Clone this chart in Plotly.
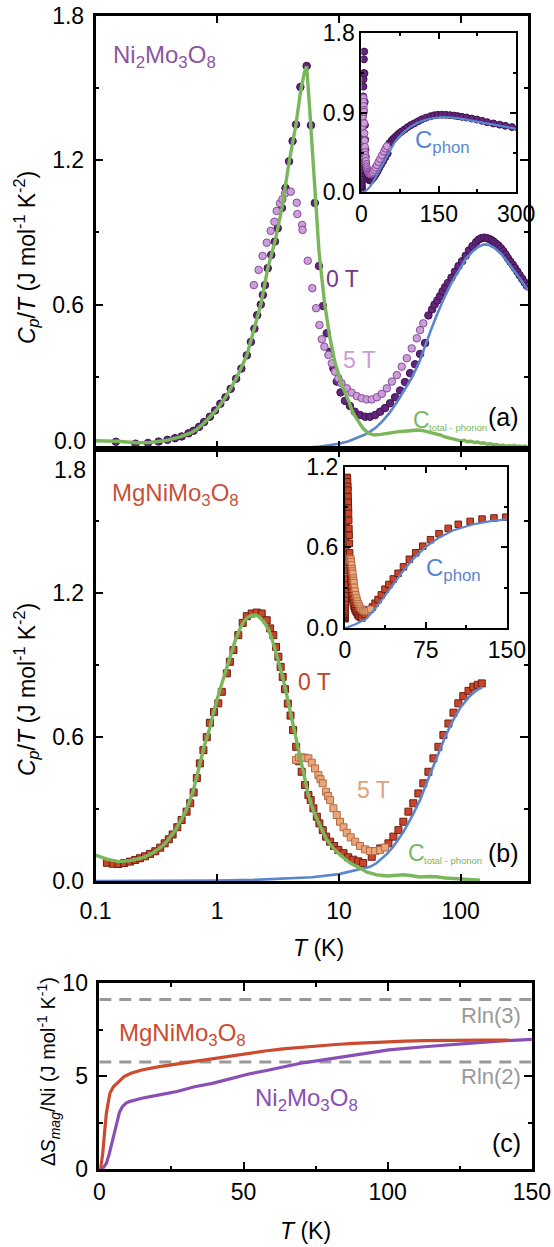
import plotly.graph_objects as go

# ---------------- data ----------------
# (a) Ni2Mo3O8, Cp/T in J mol^-1 K^-2
ni_0T_T = [0.147, 0.213, 0.27, 0.33, 0.39, 0.45, 0.51, 0.58, 0.64, 0.71, 0.78, 0.87, 0.96, 1.06,
           1.17, 1.29, 1.43, 1.58, 1.75, 1.89, 2.02, 2.13, 2.28, 2.37, 2.47, 2.60, 2.78, 2.98,
           3.14, 3.40, 3.64, 3.89, 4.16, 4.44, 4.82, 5.43, 5.89, 6.34, 6.86, 7.40, 7.94, 8.45,
           9.0, 9.6, 10.3, 11.2, 12.3, 13.5, 14.9, 16.4, 18.0, 19.8, 21.8, 23.9, 26.3, 28.9,
           31.8, 34.9, 38.4, 42.2, 46.4, 51.0, 54.3, 58.2, 61.0, 64.3, 67.5, 71.0, 74.5, 78.6,
           84.0, 89.8, 96.0, 102.6, 110, 117, 125, 134, 141, 148, 156, 164, 172, 180, 187, 195,
           204, 214, 224, 234, 244, 256, 268, 279, 292, 305, 320, 335, 350]
ni_0T_C = [0.030, 0.022, 0.025, 0.031, 0.038, 0.045, 0.052, 0.065, 0.076, 0.092, 0.112, 0.134,
           0.160, 0.188, 0.215, 0.250, 0.292, 0.334, 0.389, 0.445, 0.500, 0.556, 0.600, 0.640,
           0.681, 0.751, 0.806, 0.862, 0.917, 1.001, 1.084, 1.195, 1.279, 1.348, 1.504, 1.591,
           1.345, 1.022, 0.760, 0.594, 0.481, 0.404, 0.335, 0.280, 0.235, 0.200, 0.179, 0.155,
           0.141, 0.134, 0.134, 0.141, 0.155, 0.170, 0.190, 0.215, 0.243, 0.278, 0.315, 0.352,
           0.395, 0.440, 0.555, 0.580, 0.600, 0.617, 0.635, 0.655, 0.672, 0.690, 0.712, 0.737,
           0.760, 0.780, 0.803, 0.825, 0.843, 0.860, 0.870, 0.876, 0.878, 0.876, 0.872, 0.867,
           0.861, 0.853, 0.845, 0.834, 0.822, 0.808, 0.793, 0.778, 0.765, 0.752, 0.737, 0.722,
           0.707, 0.692, 0.678]

ni_5T_T = [2.00, 2.19, 2.36, 2.55, 2.75, 2.95, 3.08, 3.28, 3.43, 3.61, 4.02, 4.50, 4.55, 4.98,
           5.02, 5.54, 6.04, 6.49, 6.91, 7.23, 7.59, 8.19, 8.73, 9.29, 9.89, 10.5, 11.6, 12.7,
           14.0, 15.4, 16.9, 18.6, 20.5, 22.5, 24.7, 27.2, 29.9, 32.8, 36.1, 39.6, 43.6, 46.4,
           49.3]
ni_5T_C = [0.681, 0.744, 0.802, 0.857, 0.906, 0.944, 0.989, 1.021, 1.037, 1.062, 1.069, 1.023,
           0.976, 0.931, 0.910, 0.782, 0.668, 0.585, 0.515, 0.456, 0.425, 0.391, 0.356, 0.321,
           0.294, 0.273, 0.252, 0.234, 0.220, 0.211, 0.206, 0.206, 0.215, 0.229, 0.252, 0.280,
           0.307, 0.342, 0.377, 0.418, 0.460, 0.494, 0.522]

ni_phon_T = [1.5, 3, 5, 7, 10, 12, 14, 16, 18, 20, 23, 26, 30, 35, 40, 46, 51, 57, 64, 72, 84,
             98, 110, 125, 140, 155, 170, 190, 215, 245, 280, 320, 357]
ni_phon_C = [0.0, 0.001, 0.004, 0.010, 0.022, 0.032, 0.045, 0.058, 0.072, 0.088, 0.118, 0.150,
             0.195, 0.248, 0.298, 0.365, 0.430, 0.495, 0.560, 0.620, 0.690, 0.750, 0.790, 0.820,
             0.840, 0.850, 0.848, 0.835, 0.810, 0.775, 0.737, 0.695, 0.658]

ni_mag_T = [0.1, 0.15, 0.22, 0.28, 0.385, 0.494, 0.60, 0.68, 0.78, 0.87, 1.0, 1.17, 1.43, 1.75,
            2.02, 2.28, 2.6, 2.98, 3.4, 3.89, 4.44, 4.82, 5.2, 5.43, 5.7, 6.2, 6.86, 7.6, 8.38,
            9.26, 10.6, 12.1, 12.9, 14.3, 15.8, 17.4, 19.5, 22, 26.7, 31, 36.5, 40, 44, 48, 53,
            60, 68.5, 74, 80, 88, 94, 100, 107, 113, 121, 130, 138, 146, 155, 165, 176, 188,
            199, 210, 222, 235, 248, 262, 276, 290, 305, 320, 336, 353]
ni_mag_C = [0.034, 0.032, 0.026, 0.027, 0.036, 0.050, 0.066, 0.082, 0.108, 0.132, 0.165, 0.215,
            0.292, 0.389, 0.500, 0.600, 0.750, 0.862, 1.000, 1.190, 1.350, 1.480, 1.565, 1.590,
            1.440, 1.167, 0.820, 0.610, 0.470, 0.360, 0.264, 0.195, 0.155, 0.118, 0.085, 0.066,
            0.058, 0.061, 0.068, 0.072, 0.075, 0.078, 0.079, 0.077, 0.072, 0.065, 0.058, 0.050,
            0.046, 0.040, 0.038, 0.034, 0.036, 0.030, 0.032, 0.027, 0.029, 0.024, 0.026, 0.020,
            0.022, 0.017, 0.019, 0.013, 0.016, 0.011, 0.014, 0.012, 0.015, 0.011, 0.013, 0.010,
            0.013, 0.011]

# (b) MgNiMo3O8
mg_0T_T = [0.124, 0.139, 0.154, 0.172, 0.192, 0.212, 0.232, 0.255, 0.28, 0.31, 0.34, 0.37, 0.40,
           0.43, 0.47, 0.51, 0.56, 0.60, 0.64, 0.68, 0.72, 0.77, 0.82, 0.87, 0.94, 1.02, 1.09,
           1.20, 1.27, 1.36, 1.49, 1.62, 1.75, 1.92, 2.11, 2.32, 2.55, 2.72, 2.89, 3.04, 3.18,
           3.32, 3.45, 3.60, 3.80, 4.00, 4.20, 4.45, 4.70, 4.94, 5.26, 5.61, 5.86, 6.17, 6.58,
           6.91, 7.36, 7.84, 8.45, 9.12, 9.89, 10.9, 11.9, 13.1, 14.4, 15.8,
           18.6, 21.8, 25.5, 28.0, 30.8, 33.8, 37.2, 40.8, 44.9, 49.3, 54.3, 59.7, 65.6, 72.1,
           79.3, 87.2, 95.7, 105, 116, 127, 138, 149]
mg_0T_C = [0.077, 0.073, 0.072, 0.076, 0.082, 0.089, 0.096, 0.104, 0.114, 0.125, 0.140, 0.158,
           0.175, 0.195, 0.225, 0.255, 0.290, 0.325, 0.370, 0.430, 0.491, 0.546, 0.600, 0.660,
           0.705, 0.741, 0.789, 0.866, 0.914, 0.963, 1.025, 1.076, 1.104, 1.115, 1.119, 1.115,
           1.087, 1.053, 1.025, 0.976, 0.935, 0.893, 0.851, 0.800, 0.740, 0.690, 0.630, 0.560,
           0.500, 0.456, 0.401, 0.359, 0.338, 0.304, 0.269, 0.241, 0.213, 0.186, 0.165, 0.147,
           0.130, 0.117, 0.100, 0.090, 0.083, 0.076,
           0.102, 0.137, 0.158, 0.186, 0.213, 0.248, 0.290, 0.325, 0.366, 0.408, 0.456, 0.512,
           0.560, 0.609, 0.657, 0.702, 0.741, 0.771, 0.793, 0.810, 0.818, 0.824]

mg_5T_T = [4.44, 4.70, 4.94, 5.25, 5.61, 5.98, 6.36, 6.78, 7.05, 7.36, 7.84, 8.15, 8.45, 9.0,
           9.59, 10.2, 10.9, 11.6, 12.5, 13.6, 14.9, 16.4, 18.0, 19.8, 21.8, 23.9]
mg_5T_C = [0.505, 0.515, 0.516, 0.515, 0.512, 0.494, 0.470, 0.442, 0.425, 0.408, 0.373, 0.355,
           0.338, 0.304, 0.276, 0.248, 0.225, 0.202, 0.183, 0.165, 0.147, 0.133, 0.126, 0.126,
           0.130, 0.141]

mg_phon_T = [0.1, 0.5, 1, 2, 3, 6, 10, 14.9, 18, 20.3, 24.7, 28, 33.8, 40, 46.3, 54, 63.5, 75,
             87, 100, 119, 135, 150]
mg_phon_C = [0.001, 0.002, 0.003, 0.006, 0.009, 0.017, 0.030, 0.050, 0.060, 0.075, 0.113, 0.145,
             0.205, 0.272, 0.338, 0.425, 0.515, 0.605, 0.672, 0.725, 0.772, 0.795, 0.808]

mg_mag_T = [0.1, 0.124, 0.154, 0.192, 0.25, 0.30, 0.37, 0.45, 0.55, 0.63, 0.70, 0.78, 0.873, 0.95,
            1.05, 1.15, 1.27, 1.40, 1.54, 1.67, 1.80, 1.95, 2.11, 2.28, 2.47, 2.68, 2.89, 3.13,
            3.39, 3.67, 3.96, 4.3, 4.64, 5.1, 5.6, 6.2, 7.0, 7.8, 8.5, 9.5, 10.9, 12.5, 14.9,
            17, 20.5, 25, 30, 34, 40, 46, 55, 63, 75, 87, 100, 119, 135, 144]
mg_mag_C = [0.109, 0.092, 0.082, 0.086, 0.100, 0.120, 0.155, 0.210, 0.290, 0.370, 0.463, 0.560,
            0.643, 0.720, 0.796, 0.860, 0.935, 1.000, 1.053, 1.085, 1.101, 1.108, 1.108, 1.095,
            1.074, 1.040, 0.990, 0.930, 0.866, 0.790, 0.713, 0.630, 0.546, 0.460, 0.360, 0.290,
            0.230, 0.180, 0.152, 0.125, 0.098, 0.075, 0.054, 0.038, 0.027, 0.022, 0.025, 0.027,
            0.023, 0.018, 0.020, 0.019, 0.014, 0.012, 0.010, 0.008, 0.006, 0.005]

# (c) magnetic entropy per Ni, J mol^-1 K^-1
mg_S_T = [0.37, 0.8, 1.2, 1.8, 2.45, 3.1, 3.7, 4.9, 6.7, 8.6, 11, 14.7, 20.8, 26.9, 33, 39.2,
          45, 51.4, 57.5, 63.7, 70, 75.9, 82, 88.2, 94, 100.4, 106, 112.7, 120, 124.9, 133, 142]
mg_S = [0.05, 0.4, 0.86, 1.94, 3.0, 3.6, 4.1, 4.44, 4.71, 4.98, 5.16, 5.34, 5.52, 5.66, 5.8,
        5.97, 6.1, 6.24, 6.36, 6.47, 6.56, 6.65, 6.71, 6.77, 6.82, 6.86, 6.89, 6.92, 6.94, 6.95,
        6.95, 6.95]
ni_S_T = [0.5, 1.2, 2.45, 3.4, 4.3, 5.2, 6.1, 7.0, 8.0, 9.2, 10.4, 12.5, 14.7, 20.8, 26.9, 33,
          39.2, 45.3, 51.4, 57.6, 63.7, 69.8, 75.9, 82, 88.2, 94.3, 100.4, 112.7, 124.9, 137.1,
          150]
ni_S = [0.0, 0.05, 0.32, 0.8, 1.4, 2.05, 2.65, 3.07, 3.37, 3.55, 3.64, 3.74, 3.82, 4.0, 4.18,
        4.44, 4.62, 4.86, 5.11, 5.30, 5.52, 5.70, 5.84, 5.99, 6.15, 6.29, 6.42, 6.59, 6.74, 6.88,
        6.99]
R_LN3 = 9.134
R_LN2 = 5.763

# tick labels
main_x_ticks = [0.1, 1, 10, 100]
main_x_text = ["0.1", "1", "10", "100"]
main_y_ticks = [0, 0.6, 1.2, 1.8]
main_y_text = ["0.0", "0.6", "1.2", "1.8"]

# ---------------- styling ----------------
W, H = 554, 1247
FONT = "Liberation Sans, Arial, Helvetica, sans-serif"
TICK = 23

NI0_FILL, NI0_EDGE = "#62267a", "#3f1352"
NI5_FILL, NI5_EDGE = "#caa0d6", "#8a4a9e"
MG0_FILL, MG0_EDGE = "#c9462b", "#6e1e0f"
MG5_FILL, MG5_EDGE = "#e9a678", "#b36a45"
GREEN = "#79b75a"
BLUE = "#5b85cf"


def fx(px):
    return px / W


def fy(py):
    return 1 - py / H


fig = go.Figure()


def pts(x, y, sym, fill, edge, size, xa, ya):
    fig.add_trace(go.Scatter(x=x, y=y, mode="markers", xaxis=xa, yaxis=ya, showlegend=False,
                             marker=dict(symbol=sym, size=size, color=fill,
                                         line=dict(color=edge, width=1))))


def line(x, y, color, width, xa, ya, dash=None):
    fig.add_trace(go.Scatter(x=x, y=y, mode="lines", xaxis=xa, yaxis=ya, showlegend=False,
                             line=dict(color=color, width=width, dash=dash)))


# panel (a)
pts(ni_0T_T, ni_0T_C, "circle", NI0_FILL, NI0_EDGE, 7.5, "x", "y")
pts(ni_5T_T, ni_5T_C, "circle", NI5_FILL, NI5_EDGE, 7.5, "x", "y")
line(ni_phon_T, ni_phon_C, BLUE, 2.6, "x", "y")
line(ni_mag_T, ni_mag_C, GREEN, 3.4, "x", "y")
# inset (a)
pts(ni_0T_T, ni_0T_C, "circle", NI0_FILL, NI0_EDGE, 7, "x3", "y3")
pts(ni_5T_T, ni_5T_C, "circle", NI5_FILL, NI5_EDGE, 7, "x3", "y3")
line([0] + ni_phon_T, [0] + ni_phon_C, BLUE, 2.2, "x3", "y3")
# panel (b)
pts(mg_0T_T, mg_0T_C, "square", MG0_FILL, MG0_EDGE, 7, "x2", "y2")
pts(mg_5T_T, mg_5T_C, "square", MG5_FILL, MG5_EDGE, 7, "x2", "y2")
line(mg_phon_T, mg_phon_C, BLUE, 2.6, "x2", "y2")
line(mg_mag_T, mg_mag_C, GREEN, 3.4, "x2", "y2")
# inset (b)
pts(mg_0T_T, mg_0T_C, "square", MG0_FILL, MG0_EDGE, 6.5, "x4", "y4")
pts(mg_5T_T, mg_5T_C, "square", MG5_FILL, MG5_EDGE, 6.5, "x4", "y4")
line([0] + mg_phon_T, [0] + mg_phon_C, BLUE, 2.2, "x4", "y4")
# panel (c)
line([0, 150], [R_LN3, R_LN3], "#999999", 3, "x5", "y5", dash="12px,8px")
line([0, 150], [R_LN2, R_LN2], "#999999", 3, "x5", "y5", dash="12px,8px")
line([0] + ni_S_T, [0] + ni_S, "#8a4fb6", 3.2, "x5", "y5")
line([0] + mg_S_T, [0] + mg_S, "#cc4b2f", 3.2, "x5", "y5")


def axis(domain, anchor, lw=2.5, tl=8, **kw):
    d = dict(domain=domain, anchor=anchor, showline=True, linecolor="black", linewidth=lw,
             mirror="allticks", ticks="inside", ticklen=tl, tickwidth=2, tickcolor="black",
             showgrid=False, zeroline=False, automargin=False,
             tickfont=dict(family=FONT, size=TICK, color="black"))
    d.update(kw)
    return d


minor_main = dict(ticks="inside", ticklen=4, tickwidth=2, tickcolor="black",
                  tickmode="array", tickvals=[0.3, 0.9, 1.5], showgrid=False)

dom_main_x = [fx(95.5), fx(528)]
fig.update_layout(
    width=W, height=H, margin=dict(l=0, r=0, t=0, b=0, pad=0, autoexpand=False),
    paper_bgcolor="white", plot_bgcolor="white",
    xaxis=axis(dom_main_x, "y", type="log", range=[-1, 2.553], tickmode="array",
               tickvals=main_x_ticks, showticklabels=False),
    yaxis=axis([fy(449), fy(15.7)], "x", range=[0, 1.8], tickmode="array",
               tickvals=main_y_ticks, ticktext=[""] + main_y_text[1:], minor=minor_main,
               ticklabelstandoff=4),
    xaxis2=axis(dom_main_x, "y2", type="log", range=[-1, 2.553], tickmode="array",
                tickvals=main_x_ticks, ticktext=main_x_text, ticklabelstandoff=7),
    yaxis2=axis([fy(881.3), fy(449)], "x2", range=[0, 1.8], tickmode="array",
                tickvals=main_y_ticks, ticktext=main_y_text[:-1] + [""], minor=minor_main,
                ticklabelstandoff=4),
    xaxis3=axis([fx(361.4), fx(516.1)], "y3", lw=2, tl=6, range=[0, 300], tickmode="array",
                tickvals=[0, 150, 300],
                minor=dict(ticks="inside", ticklen=3, tickwidth=2, tickcolor="black",
                           tickmode="array", tickvals=[75, 225])),
    yaxis3=axis([fy(192.3), fy(33.1)], "x3", lw=2, tl=6, range=[0, 1.8], tickmode="array",
                tickvals=[0, 0.9, 1.8], ticktext=["0.0", "0.9", "1.8"],
                minor=dict(ticks="inside", ticklen=3, tickwidth=2, tickcolor="black",
                           tickmode="array", tickvals=[0.45, 1.35])),
    xaxis4=axis([fx(344.8), fx(506.9)], "y4", lw=2, tl=6, range=[0, 150], tickmode="array",
                tickvals=[0, 75, 150],
                minor=dict(ticks="inside", ticklen=3, tickwidth=2, tickcolor="black",
                           tickmode="array", tickvals=[37.5, 112.5])),
    yaxis4=axis([fy(628.3), fy(466.5)], "x4", lw=2, tl=6, range=[0, 1.2], tickmode="array",
                tickvals=[0, 0.6, 1.2], ticktext=["0.0", "0.6", "1.2"],
                minor=dict(ticks="inside", ticklen=3, tickwidth=2, tickcolor="black",
                           tickmode="array", tickvals=[0.3, 0.9])),
    xaxis5=axis([fx(99.3), fx(531.9)], "y5", range=[0, 150], tickmode="array",
                tickvals=[0, 50, 100, 150],
                minor=dict(ticks="inside", ticklen=4, tickwidth=2, tickcolor="black",
                           tickmode="array", tickvals=[25, 75, 125])),
    yaxis5=axis([fy(1169.3), fy(983.3)], "x5", range=[0, 10], tickmode="array",
                tickvals=[0, 5, 10], ticklabelstandoff=4,
                minor=dict(ticks="inside", ticklen=4, tickwidth=2, tickcolor="black",
                           tickmode="array", tickvals=[2.5, 7.5])),
)

ann = []


def txt(x, y, s, size, color, xa="left", ya="middle", angle=0):
    ann.append(dict(xref="paper", yref="paper", x=fx(x), y=fy(y), text=s, showarrow=False,
                    font=dict(family=FONT, size=size, color=color), xanchor=xa, yanchor=ya,
                    textangle=angle))


# end tick labels nudged off the shared a/b boundary
ann.append(dict(xref="paper", yref="y", x=fx(87.5), y=main_y_ticks[0], text=main_y_text[0],
                showarrow=False, xanchor="right", yanchor="middle", yshift=8,
                font=dict(family=FONT, size=TICK, color="black")))
ann.append(dict(xref="paper", yref="y2", x=fx(87.5), y=main_y_ticks[-1], text=main_y_text[-1],
                showarrow=False, xanchor="right", yanchor="middle", yshift=-21,
                font=dict(family=FONT, size=TICK, color="black")))

ytitle = "<i>C<sub>p</sub></i>/<i>T</i> (J mol<sup>-1</sup> K<sup>-2</sup>)"
txt(26, 258, ytitle, 23, "black", xa="center", angle=-90)
txt(26, 690, ytitle, 23, "black", xa="center", angle=-90)
txt(318, 948, "<i>T</i> (K)", 23, "black", xa="center")

# panel (a) labels
txt(111, 56, "Ni<sub>2</sub>Mo<sub>3</sub>O<sub>8</sub>", 24, "#8b55a2")
txt(324, 279, "0 T", 23, "#74388a")
txt(341, 360, "5 T", 23, "#c9a0d4")
txt(411, 420, "C", 23, GREEN)
txt(427, 427, "total - phonon", 9.5, GREEN)
txt(486, 417, "(a)", 25, "black")
txt(413, 141, "C<sub>phon</sub>", 24, BLUE)

# panel (b) labels
txt(110, 494, "MgNiMo<sub>3</sub>O<sub>8</sub>", 24, "#c8523a")
txt(296, 682, "0 T", 23, "#c0452b")
txt(355, 790, "5 T", 23, "#e0a47c")
txt(406, 853, "C", 23, GREEN)
txt(422, 860, "total - phonon", 9.5, GREEN)
txt(486, 853, "(b)", 25, "black")
txt(424, 569, "C<sub>phon</sub>", 24, BLUE)

# panel (c) labels
txt(48, 1072, "Δ<i>S<sub>mag</sub></i>/Ni (J mol<sup>-1</sup> K<sup>-1</sup>)", 20, "black",
    xa="center", angle=-90)
txt(305, 1231, "<i>T</i> (K)", 23, "black", xa="center")
txt(117, 1034, "MgNiMo<sub>3</sub>O<sub>8</sub>", 24, "#cc4b2f")
txt(253, 1099, "Ni<sub>2</sub>Mo<sub>3</sub>O<sub>8</sub>", 24, "#8a4fb6")
txt(523, 1015, "Rln(3)", 22, "#999999", xa="right")
txt(523, 1076, "Rln(2)", 22, "#999999", xa="right")
txt(523, 1143, "(c)", 25, "black", xa="right")

fig.update_layout(annotations=ann)
# page body margin off so the canvas sits flush with the window
fig.write_html("out.html", post_script="document.body.style.margin='0';")
